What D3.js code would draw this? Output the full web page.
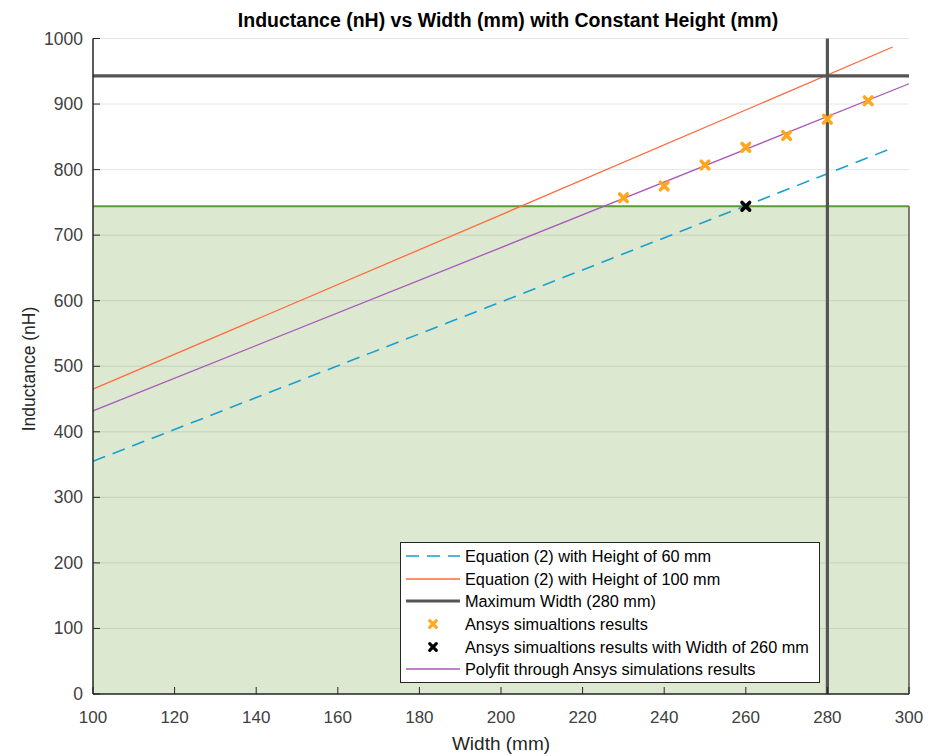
<!DOCTYPE html>
<html><head><meta charset="utf-8">
<script src="https://cdn.jsdelivr.net/npm/d3@7"></script>
<style>body{margin:0;background:#fff}svg{display:block}text{font-family:"Liberation Sans",Arial,Helvetica,sans-serif}</style>
</head><body>
<svg id="c" width="929" height="756"></svg>
<script>
// ---- data ----
const xTicks = [100,120,140,160,180,200,220,240,260,280,300];
const yTicks = [0,100,200,300,400,500,600,700,800,900,1000];
const eqH60 = [[100,355],[200,598],[296,833]];      // dashed blue
const eqH100 = [[100,465],[200,731],[296,987]];     // orange
const polyfit = [[100,432],[200,681],[300,931]];    // purple
const simWidths = [230,240,250,260,270,280,290];
const simValues = [757,775,807,834,852,877,905];
const sim260 = [[260,744]];
const maxWidth = 280;
const limitInductance = 943;
const targetInductance = 744;
const legendLabels = [
  "Equation (2) with Height of 60 mm",
  "Equation (2) with Height of 100 mm",
  "Maximum Width (280 mm)",
  "Ansys simualtions results",
  "Ansys simualtions results with Width of 260 mm",
  "Polyfit through Ansys simulations results"
];

const svg = d3.select("#c");
const x = d3.scaleLinear().domain([100,300]).range([93,909]);
const y = d3.scaleLinear().domain([0,1000]).range([694,38.5]);
const col = {blue:"#1a9fd0", orange:"#fe6c3c", gray:"#555555", marker:"#ffa81e", purple:"#a957b8", green:"#5b9a36", fill:"#dce9d0"};
const dash = "13,8";

// green region
svg.append("rect").attr("x",x(100)).attr("y",y(targetInductance))
  .attr("width",x(300)-x(100)).attr("height",y(0)-y(targetInductance)).attr("fill",col.fill);

// grid
svg.append("g").selectAll("line").data(yTicks).join("line")
  .attr("x1",x(100)).attr("x2",x(300)).attr("y1",d=>y(d)).attr("y2",d=>y(d))
  .attr("stroke","#000").attr("stroke-opacity",0.1).attr("stroke-width",1);

// green border
svg.append("line").attr("x1",x(100)).attr("x2",x(300)).attr("y1",y(targetInductance)).attr("y2",y(targetInductance))
  .attr("stroke",col.green).attr("stroke-width",2);
svg.append("line").attr("x1",x(300)).attr("x2",x(300)).attr("y1",y(targetInductance)).attr("y2",y(0))
  .attr("stroke","#555").attr("stroke-width",1.5);

const line = d3.line().x(d=>x(d[0])).y(d=>y(d[1]));
// lines
svg.append("path").datum(eqH60).attr("d",line).attr("fill","none").attr("stroke",col.blue).attr("stroke-width",1.6).attr("stroke-dasharray",dash);
svg.append("path").datum(eqH100).attr("d",line).attr("fill","none").attr("stroke",col.orange).attr("stroke-width",1.3);
svg.append("line").attr("x1",x(100)).attr("x2",x(300)).attr("y1",y(limitInductance)).attr("y2",y(limitInductance))
  .attr("stroke",col.gray).attr("stroke-width",3.2);
svg.append("line").attr("x1",x(maxWidth)).attr("x2",x(maxWidth)).attr("y1",y(1000)).attr("y2",y(0))
  .attr("stroke",col.gray).attr("stroke-width",3.2);
svg.append("path").datum(polyfit).attr("d",line).attr("fill","none").attr("stroke",col.purple).attr("stroke-width",1.3);

function cross(g, cx, cy, c, s, w){
  g.append("path").attr("d",`M${cx-s},${cy-s}L${cx+s},${cy+s}M${cx-s},${cy+s}L${cx+s},${cy-s}`)
    .attr("stroke",c).attr("stroke-width",w).attr("stroke-linecap","round").attr("fill","none");
}
const mk = svg.append("g");
simWidths.forEach((w,i)=>cross(mk,x(w),y(simValues[i]),col.marker,3.8,3.6));
sim260.forEach(d=>cross(mk,x(d[0]),y(d[1]),"#000",3.8,3.6));

// axes
const ax = svg.append("g").attr("stroke","#262626");
ax.append("line").attr("x1",x(100)).attr("x2",x(300)).attr("y1",y(0)).attr("y2",y(0)).attr("stroke-width",1.5);
ax.append("line").attr("x1",x(100)).attr("x2",x(100)).attr("y1",y(0)).attr("y2",y(1000)).attr("stroke-width",1.5);
ax.selectAll(".xt").data(xTicks).join("line").attr("x1",d=>x(d)).attr("x2",d=>x(d)).attr("y1",y(0)).attr("y2",y(0)-7).attr("stroke-width",1);
ax.selectAll(".yt").data(yTicks).join("line").attr("x1",x(100)).attr("x2",x(100)+7).attr("y1",d=>y(d)).attr("y2",d=>y(d)).attr("stroke-width",1);

const tg = svg.append("g").attr("fill","#404040");
tg.selectAll(".xl").data(xTicks).join("text").attr("x",d=>x(d)).attr("y",723).attr("text-anchor","middle").style("font-size","17px").text(d=>d);
tg.selectAll(".yl").data(yTicks).join("text").attr("x",83).attr("y",d=>y(d)+6).attr("text-anchor","end").style("font-size","17.5px").text(d=>d);

svg.append("text").attr("x",501).attr("y",750).attr("text-anchor","middle").attr("fill","#262626").style("font-size","19px").text("Width (mm)");
svg.append("text").attr("transform","translate(35,369) rotate(-90)").attr("text-anchor","middle").attr("fill","#262626").style("font-size","17.5px").text("Inductance (nH)");
svg.append("text").attr("x",508).attr("y",27).attr("text-anchor","middle").attr("fill","#000").style("font-size","19.5px").style("font-weight","bold").text("Inductance (nH) vs Width (mm) with Constant Height (mm)");

// legend
const lg = svg.append("g");
lg.append("rect").attr("x",400.5).attr("y",542.5).attr("width",419).attr("height",140).attr("fill","#fff").attr("stroke","#262626").attr("stroke-width",1);
const rows = [556,579,601,624,647,669];
const lx1=406, lx2=460;
lg.append("line").attr("x1",lx1).attr("x2",lx2).attr("y1",rows[0]).attr("y2",rows[0]).attr("stroke",col.blue).attr("stroke-width",1.6).attr("stroke-dasharray",dash);
lg.append("line").attr("x1",lx1).attr("x2",lx2).attr("y1",rows[1]).attr("y2",rows[1]).attr("stroke",col.orange).attr("stroke-width",1.3);
lg.append("line").attr("x1",lx1).attr("x2",lx2).attr("y1",rows[2]).attr("y2",rows[2]).attr("stroke",col.gray).attr("stroke-width",3.2);
cross(lg,433,rows[3],col.marker,3.3,3.2);
cross(lg,433,rows[4],"#000",3.3,3.2);
lg.append("line").attr("x1",lx1).attr("x2",lx2).attr("y1",rows[5]).attr("y2",rows[5]).attr("stroke",col.purple).attr("stroke-width",1.3);
lg.selectAll(".lt").data(legendLabels).join("text").attr("x",465).attr("y",(d,i)=>rows[i]+5.5)
  .attr("fill","#000").style("font-size","16.3px").text(d=>d);
</script>
</body></html>
